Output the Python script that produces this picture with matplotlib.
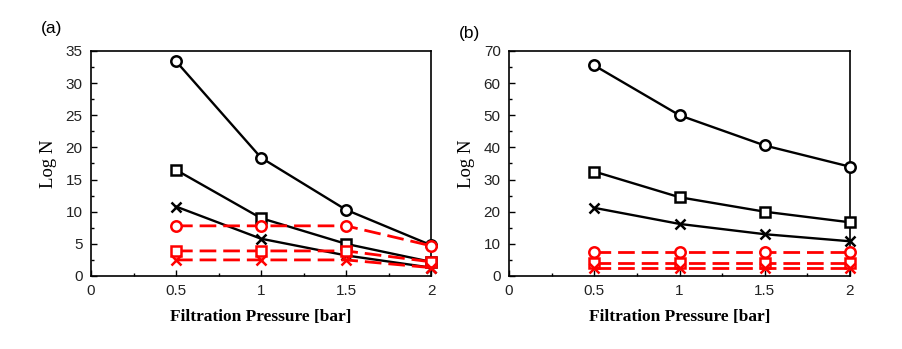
import matplotlib
matplotlib.use("Agg")
import matplotlib.pyplot as plt
from matplotlib.ticker import MultipleLocator

pressure = [0.5, 1.0, 1.5, 2.0]

# panel (a)
a_black_circle = [33.4, 18.4, 10.3, 4.8]
a_black_square = [16.5, 9.0, 5.0, 2.2]
a_black_x = [10.8, 5.8, 3.2, 1.3]
a_red_circle = [7.8, 7.8, 7.8, 4.7]
a_red_square = [3.9, 3.9, 3.9, 2.2]
a_red_x = [2.5, 2.5, 2.5, 1.3]

# panel (b)
b_black_circle = [65.5, 50.0, 40.6, 34.0]
b_black_square = [32.5, 24.5, 20.0, 16.7]
b_black_x = [21.2, 16.2, 13.0, 10.8]
b_red_circle = [7.5, 7.5, 7.5, 7.5]
b_red_square = [3.9, 3.9, 3.9, 3.9]
b_red_x = [2.6, 2.6, 2.6, 2.6]

panels = [
    ("(a)", [a_black_circle, a_black_square, a_black_x],
     [a_red_circle, a_red_square, a_red_x], 35, 5, 2.5),
    ("(b)", [b_black_circle, b_black_square, b_black_x],
     [b_red_circle, b_red_square, b_red_x], 70, 10, 5),
]
markers = ["o", "s", "x"]

tick_font = "Liberation Sans"
label_font = "Liberation Serif"

fig = plt.figure(figsize=(9.03, 3.49), dpi=100)
positions = [[0.1008, 0.2092, 0.3765, 0.6447], [0.5637, 0.2092, 0.3776, 0.6447]]
label_pos = [(0.045, 0.918), (0.508, 0.905)]

for i, (tag, blacks, reds, ymax, ymaj, ymin) in enumerate(panels):
    ax = fig.add_axes(positions[i])
    for ys, m in zip(blacks, markers):
        ax.plot(pressure, ys, color="black", lw=1.7, marker=m, ms=7.5,
                mfc="white" if m != "x" else "black", mec="black", mew=1.8,
                clip_on=False, zorder=3)
    for ys, m in zip(reds, markers):
        ax.plot(pressure, ys, color="red", lw=2.0, ls=(0, (6, 2.5)), marker=m,
                ms=7.5, mfc="white" if m != "x" else "red", mec="red", mew=1.8,
                clip_on=False, zorder=4)
    ax.set_xlim(0, 2)
    ax.set_ylim(0, ymax)
    ax.xaxis.set_minor_locator(MultipleLocator(0.25))
    ax.yaxis.set_major_locator(MultipleLocator(ymaj))
    ax.yaxis.set_minor_locator(MultipleLocator(ymin))
    ax.set_xticks([0, 0.5, 1, 1.5, 2])
    ax.set_xticklabels(["0", "0.5", "1", "1.5", "2"])
    ax.tick_params(which="both", direction="in", top=False, right=False,
                   labelsize=11, pad=6, labelcolor="#222222")
    ax.tick_params(which="major", length=4, width=1)
    ax.tick_params(which="minor", length=2.5, width=1)
    for lab in ax.get_xticklabels() + ax.get_yticklabels():
        lab.set_fontfamily(tick_font)
    for s in ax.spines.values():
        s.set_linewidth(1.2)
    ax.set_xlabel("Filtration Pressure [bar]", fontfamily=label_font,
                  fontsize=12.5, fontweight="bold", labelpad=8)
    ax.set_ylabel("Log N", fontfamily=label_font, fontsize=13.5,
                  labelpad=6)
    fig.text(label_pos[i][0], label_pos[i][1], tag, fontfamily=tick_font,
             fontsize=12.5, ha="left", va="center")

fig.savefig("out.png", dpi=100)
